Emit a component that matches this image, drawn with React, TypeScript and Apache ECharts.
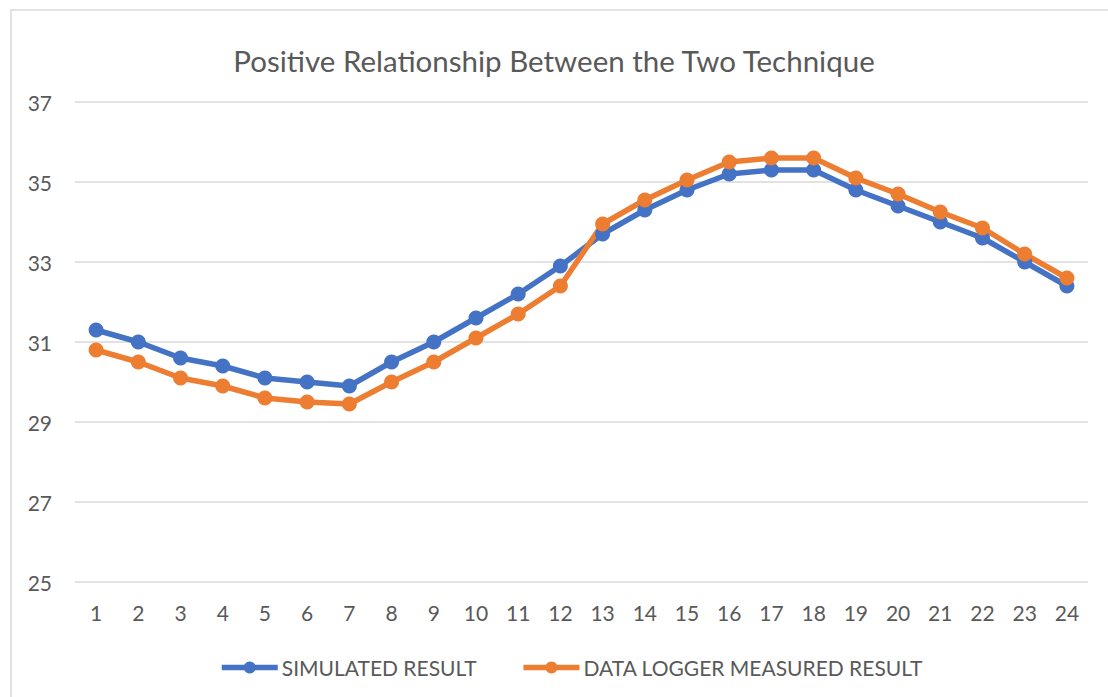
import React, { useEffect, useRef } from "react";
import * as echarts from "echarts";

const categories = ["1","2","3","4","5","6","7","8","9","10","11","12","13","14","15","16","17","18","19","20","21","22","23","24"];
const simulated = [31.3, 31.0, 30.6, 30.4, 30.1, 30.0, 29.9, 30.5, 31.0, 31.6, 32.2, 32.9, 33.7, 34.3, 34.8, 35.2, 35.3, 35.3, 34.8, 34.4, 34.0, 33.6, 33.0, 32.4];
const measured = [30.8, 30.5, 30.1, 29.9, 29.6, 29.5, 29.45, 30.0, 30.5, 31.1, 31.7, 32.4, 33.95, 34.55, 35.05, 35.5, 35.6, 35.6, 35.1, 34.7, 34.25, 33.85, 33.2, 32.6];
const titleText = "Positive Relationship Between the Two Technique";
const seriesNames = ["SIMULATED RESULT", "DATA LOGGER MEASURED RESULT"];

export default function App() {
  const ref = useRef<HTMLDivElement>(null);
  useEffect(() => {
    if (!ref.current) return;
    const chart = echarts.init(ref.current, null, { renderer: "svg" });
    const font = "Lato, 'Open Sans', sans-serif";
    const lbl = "#595959";
    chart.setOption({
      animation: false,
      backgroundColor: "#ffffff",
      textStyle: { fontFamily: font },
      title: {
        text: titleText,
        left: "center",
        top: 40,
        textStyle: { fontSize: 29.5, fontWeight: "normal", color: lbl, fontFamily: font },
      },
      graphic: [
        {
          type: "rect",
          shape: { x: 11, y: 10, width: 1120, height: 720 },
          style: { fill: "none", stroke: "#D9D9D9", lineWidth: 1.5 },
          silent: true,
        },
      ],
      legend: {
        top: 652,
        left: 214,
        itemWidth: 56,
        itemHeight: 15,
        itemGap: 44,
        lineStyle: { width: 5.5 },
        textStyle: { fontSize: 21, color: lbl, fontFamily: font, padding: [0, 0, 0, -1] },
        data: seriesNames,
      },
      grid: { left: 75, right: 20, top: 102, bottom: 115 },
      xAxis: {
        type: "category",
        data: categories,
        boundaryGap: true,
        axisLine: { show: false },
        axisTick: { show: false },
        axisLabel: { fontSize: 21, color: lbl, margin: 20, fontFamily: font },
      },
      yAxis: {
        type: "value",
        min: 25,
        max: 37,
        interval: 2,
        axisLine: { show: false },
        axisTick: { show: false },
        axisLabel: { fontSize: 21, color: lbl, margin: 23, fontFamily: font },
        splitLine: { lineStyle: { color: "#D9D9D9", width: 1.5 } },
      },
      series: [
        {
          name: seriesNames[0],
          type: "line",
          data: simulated,
          symbol: "circle",
          symbolSize: 15,
          lineStyle: { width: 5.5, color: "#4472C4" },
          itemStyle: { color: "#4472C4" },
        },
        {
          name: seriesNames[1],
          type: "line",
          data: measured,
          symbol: "circle",
          symbolSize: 15,
          lineStyle: { width: 5.5, color: "#ED7D31" },
          itemStyle: { color: "#ED7D31" },
        },
      ],
    });
    return () => chart.dispose();
  }, []);
  return (
    <div
      ref={ref}
      style={{ position: "fixed", left: 0, top: 0, width: 1108, height: 697 }}
    />
  );
}
